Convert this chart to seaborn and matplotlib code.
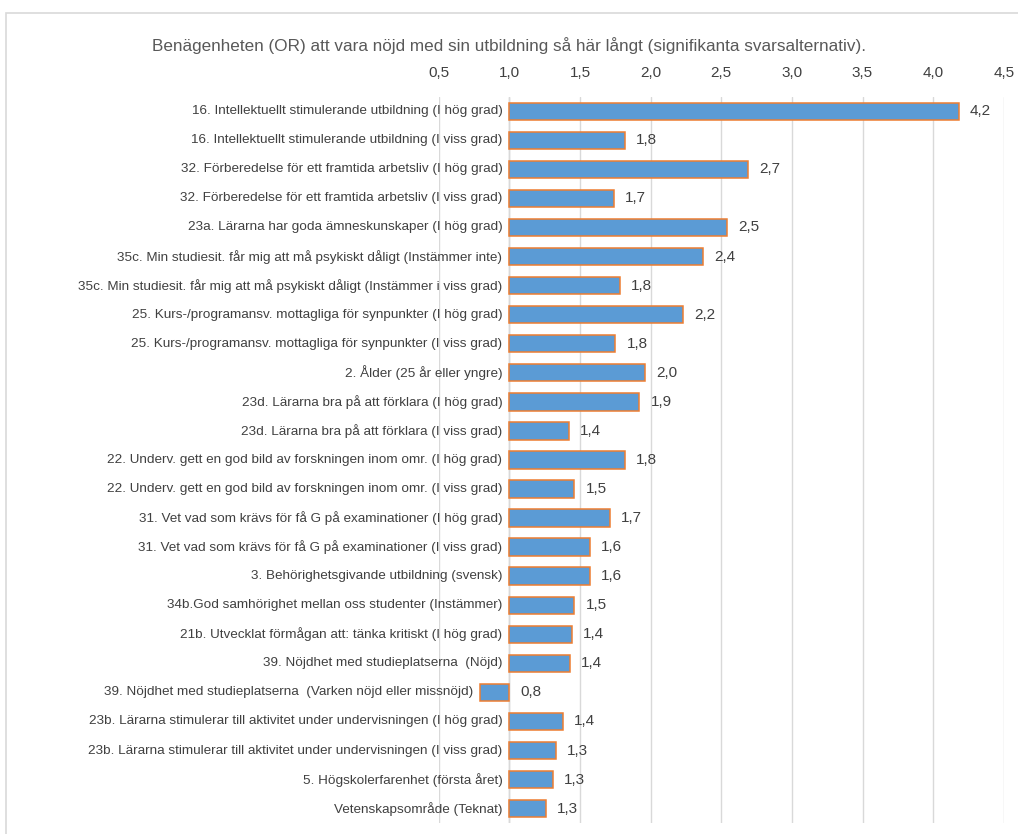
import numpy as np
import pandas as pd
import matplotlib
matplotlib.use("Agg")
import matplotlib.pyplot as plt
from matplotlib.ticker import FuncFormatter
from matplotlib.patches import Rectangle
import seaborn as sns

# data (odds ratios, baseline at 1.0)
labels = [
    "16. Intellektuellt stimulerande utbildning (I hög grad)",
    "16. Intellektuellt stimulerande utbildning (I viss grad)",
    "32. Förberedelse för ett framtida arbetsliv (I hög grad)",
    "32. Förberedelse för ett framtida arbetsliv (I viss grad)",
    "23a. Lärarna har goda ämneskunskaper (I hög grad)",
    "35c. Min studiesit. får mig att må psykiskt dåligt (Instämmer inte)",
    "35c. Min studiesit. får mig att må psykiskt dåligt (Instämmer i viss grad)",
    "25. Kurs-/programansv. mottagliga för synpunkter (I hög grad)",
    "25. Kurs-/programansv. mottagliga för synpunkter (I viss grad)",
    "2. Ålder (25 år eller yngre)",
    "23d. Lärarna bra på att förklara (I hög grad)",
    "23d. Lärarna bra på att förklara (I viss grad)",
    "22. Underv. gett en god bild av forskningen inom omr. (I hög grad)",
    "22. Underv. gett en god bild av forskningen inom omr. (I viss grad)",
    "31. Vet vad som krävs för få G på examinationer (I hög grad)",
    "31. Vet vad som krävs för få G på examinationer (I viss grad)",
    "3. Behörighetsgivande utbildning (svensk)",
    "34b.God samhörighet mellan oss studenter (Instämmer)",
    "21b. Utvecklat förmågan att: tänka kritiskt (I hög grad)",
    "39. Nöjdhet med studieplatserna  (Nöjd)",
    "39. Nöjdhet med studieplatserna  (Varken nöjd eller missnöjd)",
    "23b. Lärarna stimulerar till aktivitet under undervisningen (I hög grad)",
    "23b. Lärarna stimulerar till aktivitet under undervisningen (I viss grad)",
    "5. Högskolerfarenhet (första året)",
    "Vetenskapsområde (Teknat)",
]
odds = [4.18, 1.82, 2.69, 1.74, 2.54, 2.37, 1.78, 2.23, 1.75, 1.96,
        1.92, 1.42, 1.82, 1.46, 1.71, 1.57, 1.57, 1.46, 1.44, 1.43,
        0.79, 1.38, 1.33, 1.31, 1.26]
baseline = 1.0

title = "Benägenheten (OR) att vara nöjd med sin utbildning så här långt (signifikanta svarsalternativ)."

df = pd.DataFrame({"label": labels, "odds": odds})
df["delta"] = df["odds"] - baseline

sns.set_theme(style="white")
plt.rcParams["font.family"] = ["Liberation Sans", "DejaVu Sans"]
text_col = "#404040"

fig = plt.figure(figsize=(10.18, 8.34), dpi=100)
ax = fig.add_axes([0.431, 0.013, 0.555, 0.871])

# bars are drawn relative to the 1.0 baseline
sns.barplot(data=df, x="delta", y="label", orient="h", ax=ax,
            color="#5B9BD5", edgecolor="#ED7D31", linewidth=1.1,
            width=0.6, saturation=1)

ax.set_xlim(0.5 - baseline, 4.5 - baseline)
ax.set_xticks(np.arange(0.5, 4.51, 0.5) - baseline)
ax.xaxis.set_major_formatter(FuncFormatter(
    lambda v, p: f"{v + baseline:.1f}".replace(".", ",")))
ax.xaxis.tick_top()
ax.tick_params(axis="x", length=0, pad=12, labelsize=11, labelcolor=text_col)
ax.grid(axis="x", color="#d9d9d9", linewidth=1)
ax.set_axisbelow(True)
ax.axvline(0, color="#d0d0d0", linewidth=1, zorder=0.5)
for s in ax.spines.values():
    s.set_visible(False)
ax.set_xlabel("")
ax.set_ylabel("")
ax.set_yticks([])

# category labels sit left of the bar start, value labels right of the bar
for i, (lab, v) in enumerate(zip(df["label"], df["odds"])):
    start = min(v, baseline) - baseline
    ax.annotate(lab, (start, i), xytext=(-5, 0), textcoords="offset points",
                ha="right", va="center", fontsize=9.7, color=text_col)
    end = max(v, baseline) - baseline
    ax.annotate(f"{v:.1f}".replace(".", ","), (end, i), xytext=(8, 0),
                textcoords="offset points", ha="left", va="center",
                fontsize=11, color=text_col)

fig.text(0.5, 0.946, title, ha="center", va="center", fontsize=12.3,
         color="#595959")

# light chart-area border like the original
fig.patches.append(Rectangle((0.006, -0.1), 1.2, 1.085, transform=fig.transFigure,
                             fill=False, edgecolor="#d9d9d9", linewidth=1.2))

fig.savefig("out.png", dpi=100, facecolor="white")
